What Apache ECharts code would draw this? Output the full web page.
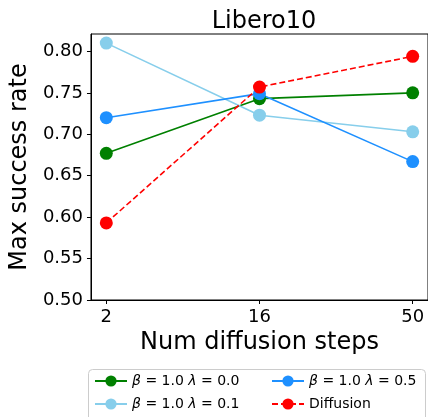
<!DOCTYPE html>
<html>
<head>
<meta charset="utf-8">
<script src="https://cdn.jsdelivr.net/npm/echarts@6/dist/echarts.min.js"></script>
<style>
  html, body { margin: 0; padding: 0; background: #fff; }
  #chart { width: 428px; height: 417px; }
</style>
</head>
<body>
<div id="chart"></div>
<script>
// data
var steps = ["2", "16", "50"];
var lam00 = [0.677, 0.743, 0.750];
var lam01 = [0.810, 0.723, 0.703];
var lam05 = [0.720, 0.749, 0.667];
var diffusion = [0.593, 0.757, 0.794];
var yTicks = [0.50, 0.55, 0.60, 0.65, 0.70, 0.75, 0.80];

var font = "DejaVu Sans";
var idx = steps.map(function (s, i) { return i; });

function pts(arr) {
  return arr.map(function (v, i) { return [i, v]; });
}

function line(name, color, arr, dashed) {
  return {
    name: name,
    type: "line",
    data: pts(arr),
    symbol: "circle",
    symbolSize: 13,
    itemStyle: { color: color },
    lineStyle: { color: color, width: 1.6, type: dashed ? [6, 3] : "solid" },
    emphasis: { disabled: true }
  };
}

var legendText = {
  fontFamily: font,
  fontSize: 14,
  color: "#000",
  rich: {
    i: { fontFamily: font, fontSize: 14, fontStyle: "italic" }
  }
};

function fmtName(name) {
  return name.replace("β", "{i|β}").replace("λ", "{i|λ}");
}

var myChart = echarts.init(document.getElementById("chart"));
var option = {
  animation: false,
  title: {
    text: "Libero10",
    left: 259,
    textAlign: "center",
    top: 5,
    textStyle: { fontFamily: font, fontSize: 24, fontWeight: "normal", color: "#000" }
  },
  grid: {
    left: 89, top: 34, right: -2, bottom: 117,
    show: true, borderColor: "#000", borderWidth: 1
  },
  xAxis: {
    type: "value",
    min: -0.1,
    max: 2.1,
    name: "Num diffusion steps",
    nameLocation: "middle",
    nameGap: 30,
    nameTextStyle: { fontFamily: font, fontSize: 24, color: "#000" },
    axisLine: { onZero: false, lineStyle: { color: "#000", width: 1 } },
    axisTick: { customValues: idx, length: 4, lineStyle: { color: "#000" } },
    axisLabel: {
      customValues: idx,
      formatter: function (v) { return steps[Math.round(v)]; },
      fontFamily: font, fontSize: 18, color: "#000", margin: 8
    },
    splitLine: { show: false }
  },
  yAxis: {
    type: "value",
    min: 0.5,
    max: 0.821,
    name: "Max success rate",
    nameLocation: "middle",
    nameGap: 52,
    nameTextStyle: { fontFamily: font, fontSize: 24, color: "#000" },
    axisLine: { show: true, onZero: false, lineStyle: { color: "#000", width: 1 } },
    axisTick: { show: true, customValues: yTicks, length: 4, lineStyle: { color: "#000" } },
    axisLabel: {
      customValues: yTicks,
      formatter: function (v) { return v.toFixed(2); },
      fontFamily: font, fontSize: 18, color: "#000", margin: 8
    },
    splitLine: { show: false }
  },
  graphic: [{
    type: "rect",
    left: 88, top: 369,
    shape: { width: 337, height: 52, r: 4 },
    style: { fill: "#fff", stroke: "#cccccc", lineWidth: 1 },
    z: 0
  }],
  legend: [{
    orient: "vertical",
    left: 94, top: 374,
    padding: 0,
    itemWidth: 32, itemHeight: 14, itemGap: 9,
    data: ["β = 1.0 λ = 0.0", "β = 1.0 λ = 0.1"],
    formatter: fmtName,
    textStyle: legendText,
    z: 5
  }, {
    orient: "vertical",
    left: 271, top: 374,
    padding: 0,
    itemWidth: 32, itemHeight: 14, itemGap: 9,
    data: ["β = 1.0 λ = 0.5", "Diffusion"],
    formatter: fmtName,
    textStyle: legendText,
    z: 5
  }],
  series: [
    line("β = 1.0 λ = 0.0", "#008000", lam00, false),
    line("β = 1.0 λ = 0.1", "#87CEEB", lam01, false),
    line("β = 1.0 λ = 0.5", "#1E90FF", lam05, false),
    line("Diffusion", "#FF0000", diffusion, true)
  ]
};
myChart.setOption(option);
</script>
</body>
</html>
